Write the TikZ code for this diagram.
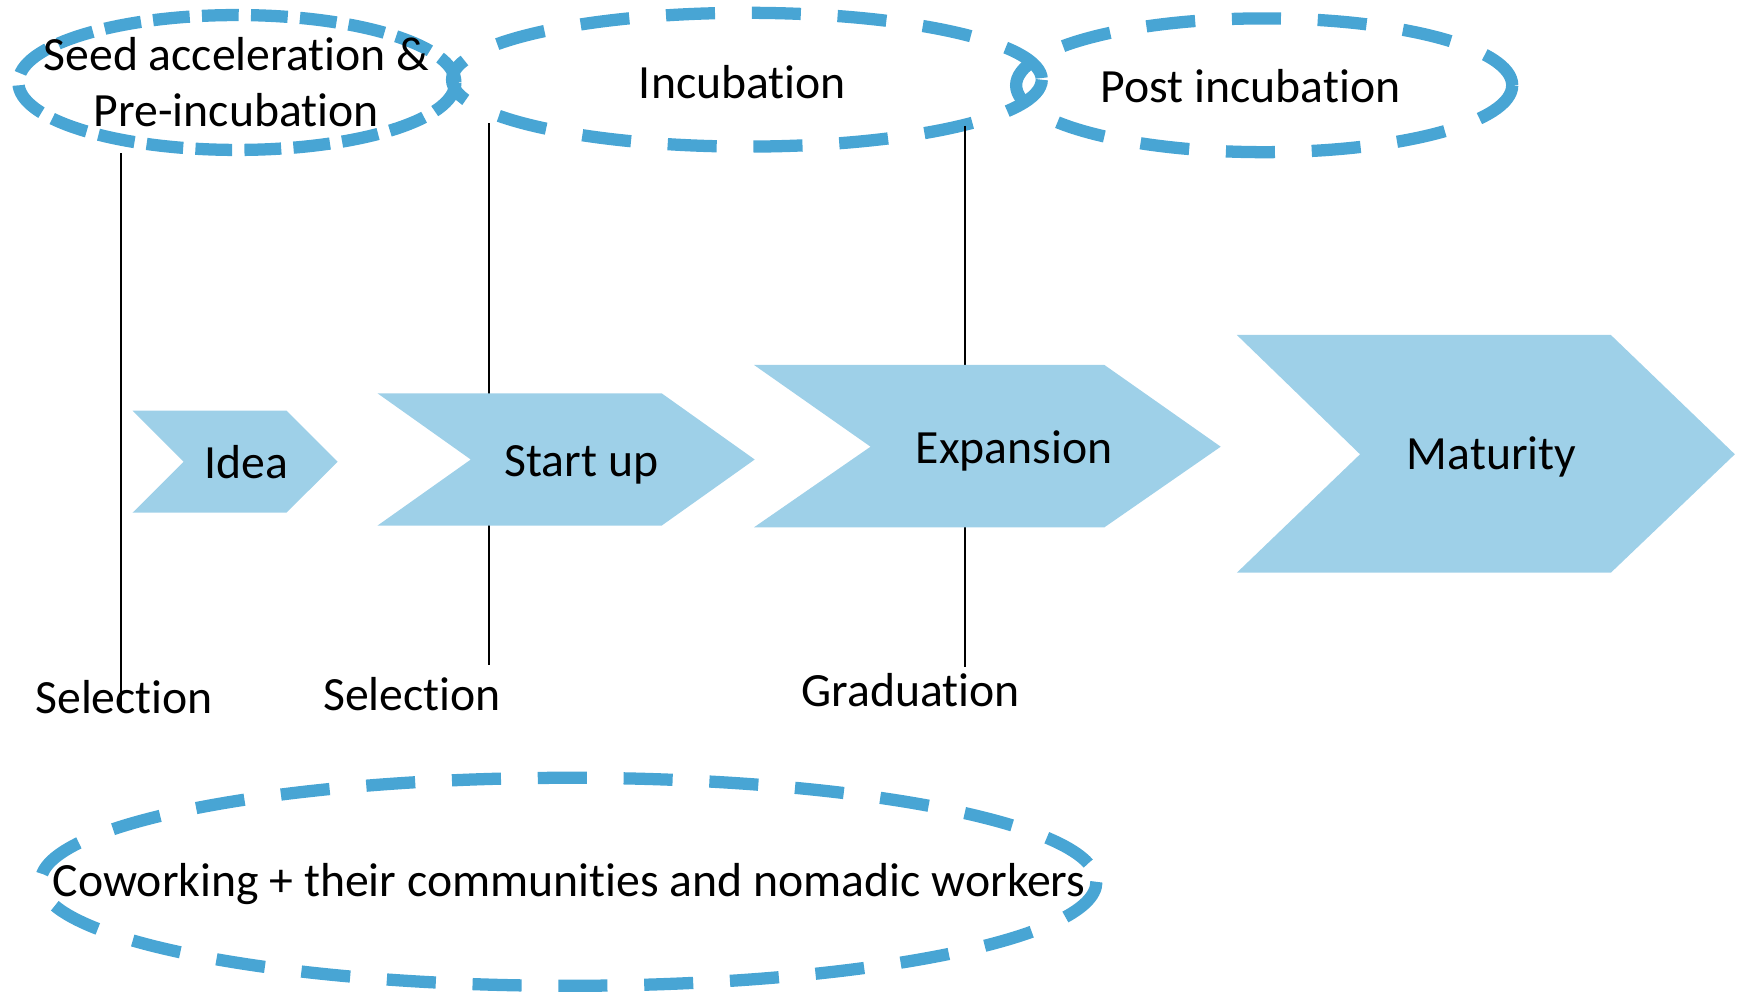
\documentclass[tikz,border=0pt]{standalone}
\usepackage{fontspec}
\setmainfont[Ligatures=NoCommon]{Carlito}
\definecolor{ringblue}{RGB}{72,165,212}
\definecolor{stagefill}{RGB}{158,208,232}
\tikzset{
  ring/.style={draw=ringblue, line width=5.5pt},
  longdash/.style={dash pattern=on 22pt off 16.5pt},
  shortdash/.style={dash pattern=on 16.5pt off 5.5pt},
  lbl/.style={inner sep=0pt, anchor=base, font=\fontsize{21.4}{25.4}\selectfont},
  stagebox/.style={fill=stagefill},
  marker/.style={black, line width=0.9pt},
}
% chevron: left, notch x, body right, tip x, top, bottom, middle
\newcommand{\stagechev}[7]{%
  \fill[stagebox] (#1,#5) -- (#3,#5) -- (#4,#7) -- (#3,#6) -- (#1,#6) -- (#2,#7) -- cycle;}
\begin{document}
\begin{tikzpicture}[x=0.5pt, y=-0.5pt]
\useasboundingbox (0,0) rectangle (1568,898);

% phase rings
\draw[ring, shortdash] (212.5,74) ellipse [x radius=196, y radius=60.5];
\draw[ring, longdash] (670,71.5) ellipse [x radius=264.5, y radius=60];
\draw[ring, longdash] (1134,76.5) ellipse [x radius=222.5, y radius=60];
\draw[ring, longdash] (510,791) ellipse [x radius=473.5, y radius=93.3];

% milestone markers
\coordinate (selAtop) at (108.2,137.5);
\coordinate (selAbot) at (108.2,637);
\coordinate (selBtop) at (438.6,110.6);
\coordinate (selBbot) at (438.6,596.5);
\coordinate (gradtop) at (865.3,113);
\coordinate (gradbot) at (865.3,598);
\draw[marker] (selAtop) -- (selAbot);
\draw[marker] (selBtop) -- (selBbot);
\draw[marker] (gradtop) -- (gradbot);

% growth stages
\stagechev{118.9}{164.8}{257}{302.8}{368.4}{459.9}{414.2}
\stagechev{338.6}{422.3}{593.5}{677}{352.8}{471.5}{412.2}
\stagechev{676.4}{780.9}{990.7}{1095}{327.4}{473}{400.7}
\stagechev{1109.5}{1220}{1445}{1556.2}{300.5}{513.7}{407.5}

% labels
\node[lbl, align=center] (seed) at (212,113.6) {Seed acceleration \&\\Pre-incubation};
\node[lbl] (incub) at (666,88) {Incubation};
\node[lbl] (post) at (1122,92) {Post incubation};
\node[lbl] (idea) at (221,428.8) {Idea};
\node[lbl] (start) at (521.5,427.6) {Start up};
\node[lbl] (expan) at (909.7,415.6) {Expansion};
\node[lbl] (matur) at (1338,421.6) {Maturity};
\node[lbl] (selA) at (111.4,640) {Selection};
\node[lbl] (selB) at (369.6,637) {Selection};
\node[lbl] (grad) at (817,634) {Graduation};
\node[lbl] (cowork) at (510.6,804.3) {Coworking + their communities and nomadic workers};
\end{tikzpicture}
\end{document}
